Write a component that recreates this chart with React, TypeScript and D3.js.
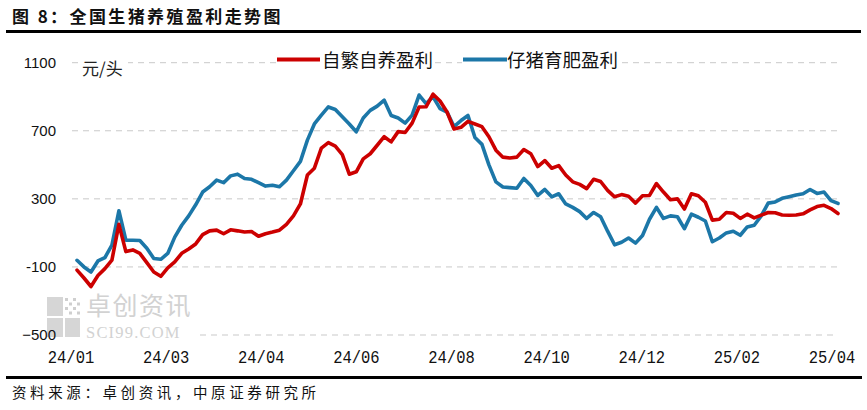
import React from "react";
import * as d3 from "d3";

const xTickLabels = ["24/01", "24/03", "24/04", "24/06", "24/08", "24/10", "24/12", "25/02", "25/04"];
const yTicks = [1100, 700, 300, -100, -500];

// 自繁自养盈利 (元/头)
const selfBredProfit = [
  -119, -165, -215, -150, -110, -60, 150, -10, 0, -20,
  -75, -130, -155, -105, -70, -20, 5, 35, 90, 112,
  116, 95, 118, 112, 105, 108, 80, 95, 105, 116,
  150, 200, 270, 440, 480, 598, 630, 610, 560, 445,
  459, 535, 565, 615, 665, 635, 695, 690, 745, 840,
  841, 915, 875, 810, 710, 720, 755, 740, 724, 665,
  586, 545, 540, 545, 590, 565, 490, 525, 480, 495,
  440, 400, 385, 360, 415, 402, 350, 312, 325, 315,
  275, 318, 320, 390, 340, 295, 300, 240, 330, 318,
  280, 175, 180, 220, 215, 185, 210, 188, 204, 220,
  218, 205, 204, 205, 212, 235, 255, 262, 243, 214,
];

// 仔猪育肥盈利 (元/头)
const pigletFatteningProfit = [
  -61, -100, -130, -65, -45, 28, 230, 57, 57, 55,
  10, -50, -55, -21, 75, 145, 200, 265, 340, 371,
  410, 395, 435, 445, 420, 415, 395, 375, 380, 371,
  410, 465, 520, 645, 740, 792, 840, 825, 782, 740,
  694, 775, 820, 845, 880, 790, 775, 745, 792, 910,
  860, 900, 830, 810, 725, 760, 790, 660, 620, 500,
  400, 370, 366, 362, 420, 378, 320, 355, 312, 330,
  270, 250, 225, 185, 220, 195, 110, 30, 45, 70,
  40, 85, 180, 250, 185, 200, 195, 125, 210, 192,
  170, 48, 70, 100, 110, 86, 135, 145, 200, 275,
  282, 303, 313, 323, 330, 355, 332, 340, 290, 273,
];

const seriesNames = ["自繁自养盈利", "仔猪育肥盈利"];
const seriesColors = ["#CC0000", "#1C77A8"];

const W = 867;
const H = 410;

export default function App() {
  const n = selfBredProfit.length;
  const x = d3.scaleLinear().domain([0, n - 1]).range([77, 838]);
  const y = d3.scaleLinear().domain([-500, 1100]).range([335, 62.7]);
  const xLabel = d3.scalePoint<string>().domain(xTickLabels).range([71, 832]);

  const line = d3
    .line<number>()
    .x((_, i) => x(i))
    .y((d) => y(d));

  const axisFont = "'Liberation Mono', 'DejaVu Sans Mono', monospace";
  const cjk = "'Noto Sans CJK SC', sans-serif";

  return (
    <svg
      width={W}
      height={H}
      viewBox={`0 0 ${W} ${H}`}
      style={{ position: "absolute", left: 0, top: 0, background: "#fff" }}
    >
      <rect x={0} y={0} width={W} height={H} fill="#fff" />
      {/* Title */}
      <text
        x={12}
        y={23}
        fontFamily={cjk}
        fontWeight={700}
        fontSize={17}
        letterSpacing={2.4}
        fill="#111"
      >
        图 8：全国生猪养殖盈利走势图
      </text>
      <line x1={6} x2={861} y1={31.5} y2={31.5} stroke="#000" strokeWidth={3} />

      {/* Watermark */}
      <g>
        <rect x={47} y={297} width={16} height={19} fill="#d6d6d6" />
        <rect x={47} y={318} width={16} height={19} fill="#d6d6d6" />
        <rect x={65} y={318} width={15} height={19} fill="#d6d6d6" />
        {d3.range(4).map((r) =>
          d3.range(4).map((c) =>
            (r + c) % 2 === 0 ? (
              <rect key={`${r}-${c}`} x={65 + c * 4} y={298 + r * 4.5} width={3} height={3} fill="#cfcfcf" />
            ) : null
          )
        )}
        <text x={86} y={315} fontFamily={cjk} fontSize={25} letterSpacing={1.5} fill="#d2d2d2">
          卓创资讯
        </text>
        <text x={86} y={338} fontFamily="'Liberation Serif', serif" fontSize={16.5} letterSpacing={1.2} fill="#d2d2d2">
          SCI99.COM
        </text>
      </g>

      {/* Gridlines */}
      {yTicks.map((t) => (
        <line
          key={t}
          x1={t === -500 ? 200 : 72}
          x2={838}
          y1={y(t)}
          y2={y(t)}
          stroke="#c9c9c9"
          strokeWidth={1}
          strokeDasharray="6 5"
        />
      ))}

      {/* Y labels */}
      {yTicks.map((t) => (
        <text
          key={t}
          x={56}
          y={y(t) + 5}
          textAnchor="end"
          fontFamily="'Liberation Sans', sans-serif"
          fontSize={15}
          fill="#111"
        >
          {t === -500 ? "\u2212500" : t}
        </text>
      ))}

      {/* Unit */}
      <rect x={80} y={58} width={48} height={12} fill="#fff" />
      <text x={82} y={75} fontFamily={cjk} fontSize={17} fill="#222">
        元/头
      </text>

      {/* X labels */}
      {xTickLabels.map((t) => (
        <text
          key={t}
          transform={`translate(${xLabel(t)},363) scale(1,1.15)`}
          textAnchor="middle"
          fontFamily={axisFont}
          fontSize={15.5}
          fill="#111"
        >
          {t}
        </text>
      ))}

      {/* Lines */}
      <path
        d={line(pigletFatteningProfit) || ""}
        fill="none"
        stroke={seriesColors[1]}
        strokeWidth={3.6}
        strokeLinejoin="round"
        strokeLinecap="round"
      />
      <path
        d={line(selfBredProfit) || ""}
        fill="none"
        stroke={seriesColors[0]}
        strokeWidth={3.6}
        strokeLinejoin="round"
        strokeLinecap="round"
      />

      {/* Legend */}
      <rect x={276} y={57} width={158} height={10} fill="#fff" />
      <rect x={462} y={57} width={160} height={10} fill="#fff" />
      <line x1={277} x2={320} y1={59.5} y2={59.5} stroke={seriesColors[0]} strokeWidth={4} />
      <text x={322} y={67} fontFamily={cjk} fontSize={18.5} fill="#111">
        {seriesNames[0]}
      </text>
      <line x1={463} x2={507} y1={59.5} y2={59.5} stroke={seriesColors[1]} strokeWidth={4} />
      <text x={507} y={67} fontFamily={cjk} fontSize={18.5} fill="#111">
        {seriesNames[1]}
      </text>

      {/* Bottom rule and source */}
      <line x1={6} x2={862} y1={377.5} y2={377.5} stroke="#000" strokeWidth={3} />
      <text x={12} y={398} fontFamily={cjk} fontSize={14.5} letterSpacing={3.6} fill="#111">
        资料来源：卓创资讯，中原证券研究所
      </text>
    </svg>
  );
}
